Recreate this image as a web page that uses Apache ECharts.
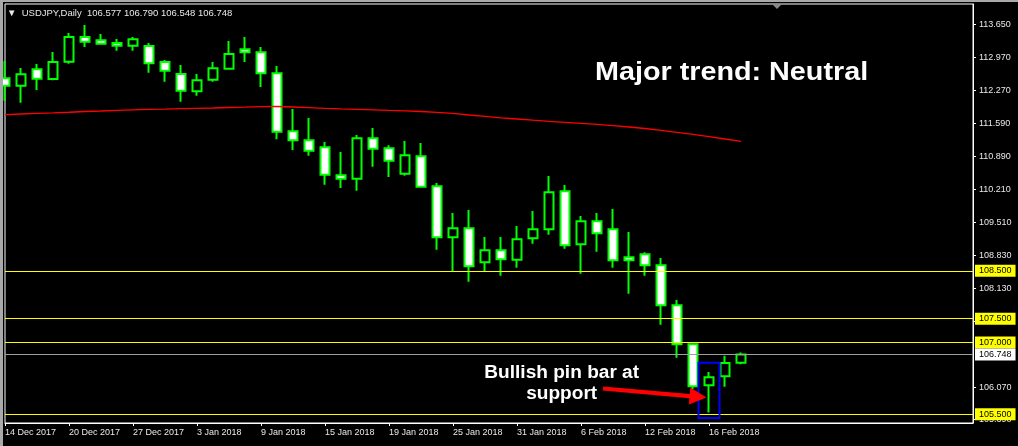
<!DOCTYPE html>
<html>
<head>
<meta charset="utf-8">
<script src="https://cdn.jsdelivr.net/npm/echarts@6/dist/echarts.min.js"></script>
<style>
html,body{margin:0;padding:0;background:#000;}
#c{width:1018px;height:446px;}
</style>
</head>
<body>
<div id="c"></div>
<script>
// ---------------- data ----------------
const symbol = 'USDJPY,Daily';
const dates = ['14 Dec 2017','15 Dec 2017','18 Dec 2017','19 Dec 2017','20 Dec 2017','21 Dec 2017','22 Dec 2017','26 Dec 2017','27 Dec 2017','28 Dec 2017','29 Dec 2017',
  '2 Jan 2018','3 Jan 2018','4 Jan 2018','5 Jan 2018','8 Jan 2018','9 Jan 2018','10 Jan 2018','11 Jan 2018','12 Jan 2018','15 Jan 2018','16 Jan 2018','17 Jan 2018','18 Jan 2018','19 Jan 2018','22 Jan 2018','23 Jan 2018','24 Jan 2018','25 Jan 2018','26 Jan 2018','29 Jan 2018','30 Jan 2018','31 Jan 2018',
  '1 Feb 2018','2 Feb 2018','5 Feb 2018','6 Feb 2018','7 Feb 2018','8 Feb 2018','9 Feb 2018','12 Feb 2018','13 Feb 2018','14 Feb 2018','15 Feb 2018','16 Feb 2018','19 Feb 2018','20 Feb 2018'];
const open  = [112.525,112.370,112.713,112.511,112.872,113.389,113.320,113.263,113.207,113.200,112.866,112.615,112.253,112.496,112.726,113.132,113.069,112.630,111.417,111.229,111.083,110.497,110.426,111.271,111.062,110.531,110.894,110.267,109.201,109.389,108.678,108.929,108.733,109.180,109.368,110.163,109.055,109.535,109.368,108.783,108.845,108.616,107.779,106.964,106.107,106.295,106.577];
const close = [112.370,112.609,112.517,112.866,113.389,113.290,113.249,113.207,113.341,112.839,112.684,112.266,112.483,112.734,113.033,113.069,112.630,111.409,111.229,111.012,110.510,110.426,111.271,111.053,110.802,110.915,110.259,109.201,109.389,108.595,108.929,108.741,109.159,109.368,110.142,109.034,109.535,109.285,108.720,108.720,108.616,107.779,106.964,106.086,106.274,106.573,106.748];
const low   = [112.057,112.015,112.281,112.483,112.830,113.180,113.240,113.102,113.102,112.642,112.454,112.036,112.161,112.454,112.705,112.866,112.343,111.250,111.026,110.907,110.301,110.232,110.175,110.677,110.462,110.489,110.238,108.942,108.490,108.273,108.490,108.398,108.565,109.067,109.255,108.963,108.440,108.900,108.565,108.022,108.398,107.374,106.684,106.030,105.540,106.077,106.548];
const high  = [112.887,112.741,112.824,113.075,113.472,113.640,113.451,113.347,113.389,113.263,112.908,112.803,112.615,112.866,113.305,113.389,113.180,112.782,111.883,111.695,111.193,110.984,111.340,111.486,111.124,111.214,111.172,110.336,109.709,109.772,109.207,109.207,109.437,109.751,110.483,110.294,109.646,109.709,109.793,109.312,108.887,108.768,107.890,106.980,106.385,106.726,106.790];
const ma200 = [111.768,111.779,111.791,111.802,111.816,111.831,111.842,111.856,111.867,111.875,111.881,111.892,111.898,111.904,111.915,111.923,111.934,111.936,111.925,111.913,111.898,111.885,111.877,111.867,111.856,111.846,111.831,111.814,111.793,111.758,111.731,111.699,111.674,111.649,111.626,111.605,111.584,111.561,111.536,111.507,111.476,111.438,111.396,111.354,111.308,111.256,111.208];
const yTicks = [113.650,112.970,112.270,111.590,110.890,110.210,109.510,108.830,108.130,107.450,106.070,105.390];
const levels = [108.5, 107.5, 107.0, 105.5];
const pinBarDate = '16 Feb 2018';
const pinBox = [106.579, 105.423];   // price span of the highlight box
const arrowTipPrice = 105.85;

// ---------------- chart ----------------
const chart = echarts.init(document.getElementById('c'), null, {renderer: 'canvas'});
const FONT = '"Liberation Sans", Arial, sans-serif';
const SLOTS = 122;                       // half-bar slots across the plot
const cats = Array.from({length: SLOTS}, (_, i) => (i % 2 === 0 && i / 2 < dates.length) ? dates[i / 2] : '#' + i);
const candles = dates.map((d, k) => [2 * k, open[k], close[k], low[k], high[k]]);
const maData = ma200.map((v, k) => [2 * k, v]);
const last = dates.length - 1;
const showIdx = (i) => i % 8 === 0 && i / 2 < dates.length;

const option = {
  backgroundColor: '#000',
  animation: false,
  title: {
    text: '\u25BC  ' + symbol + '  ' + [open[last], high[last], low[last], close[last]].map(v => v.toFixed(3)).join(' '),
    left: 7, top: 8, padding: 0,
    textStyle: {color: '#e8e8e8', fontSize: 9.5, fontWeight: 'normal', fontFamily: FONT}
  },
  grid: {left: 5, top: 4, right: 45, bottom: 23, show: true, borderColor: '#ffffff', borderWidth: 1, backgroundColor: '#000'},
  xAxis: {
    type: 'category', data: cats, boundaryGap: false,
    axisLine: {show: true, lineStyle: {color: '#ffffff'}},
    axisTick: {show: true, length: 3, interval: showIdx, lineStyle: {color: '#ffffff'}},
    axisLabel: {show: true, interval: showIdx, color: '#e8e8e8', fontSize: 9, fontFamily: FONT, align: 'left', margin: 5},
    splitLine: {show: false}
  },
  yAxis: {
    type: 'value', position: 'right', min: 105.318, max: 114.079,
    axisLine: {show: true, lineStyle: {color: '#ffffff'}},
    axisTick: {show: true, length: 3, customValues: yTicks, lineStyle: {color: '#ffffff'}},
    axisLabel: {show: true, customValues: yTicks, color: '#e8e8e8', fontSize: 9, fontFamily: FONT, margin: 6, formatter: v => Number(v).toFixed(3)},
    splitLine: {show: false}
  },
  series: [
    {
      type: 'candlestick', name: symbol, data: candles,
      encode: {x: 0, y: [1, 2, 3, 4]},
      barWidth: 9,
      itemStyle: {color: '#000000', color0: '#ffffff', borderColor: '#00ff00', borderColor0: '#00ff00', borderColorDoji: '#00ff00', borderWidth: 2},
      markLine: {
        silent: true, symbol: ['none', 'none'], animation: false, precision: 3,
        lineStyle: {type: 'solid', width: 1},
        label: {show: true, position: 'end', distance: 2, color: '#000', fontSize: 9, fontFamily: FONT,
                padding: [2, 4, 1, 4], formatter: p => Number(p.value).toFixed(3)},
        data: levels.map(v => ({yAxis: v, lineStyle: {color: '#ffff00'}, label: {backgroundColor: '#ffff00'}}))
          .concat([{yAxis: close[last], lineStyle: {color: '#a0a0a0'}, label: {backgroundColor: '#ffffff'}}])
      }
    },
    {
      type: 'line', name: 'MA', data: maData, symbol: 'none', showSymbol: false,
      lineStyle: {color: '#ff0000', width: 1.3}, z: 3
    }
  ]
};
chart.setOption(option);

// ---------------- annotations ----------------
const pin = dates.indexOf(pinBarDate);
const pTop = chart.convertToPixel({gridIndex: 0}, [2 * pin, pinBox[0]]);
const pBot = chart.convertToPixel({gridIndex: 0}, [2 * pin, pinBox[1]]);
const pTip = chart.convertToPixel({gridIndex: 0}, [2 * pin, arrowTipPrice]);
const cx = pTop[0];

const tip = [pTip[0] - 2.5, pTip[1]];
const tail = [603, 388.5];
const dx = tip[0] - tail[0], dy = tip[1] - tail[1];
const L = Math.hypot(dx, dy);
const u = [dx / L, dy / L], n = [-u[1], u[0]];
const headLen = 17, headHalf = 8.5, sh = 2.1;
const base = [tip[0] - u[0] * headLen, tip[1] - u[1] * headLen];
const P = (p, k) => [p[0] + n[0] * k, p[1] + n[1] * k];
const arrowPts = [P(tail, -sh), P(base, -sh), P(base, -headHalf), tip, P(base, headHalf), P(base, sh), P(tail, sh)];

chart.setOption({
  graphic: [
    {type: 'rect', left: 0, top: 0, shape: {width: 1018, height: 2}, style: {fill: '#a9a9a9'}, silent: true, z: 100},
    {type: 'rect', left: 0, top: 0, shape: {width: 3, height: 446}, style: {fill: '#a9a9a9'}, silent: true, z: 100},
    {type: 'polygon', shape: {points: [[772, 4], [782, 4], [777, 9]]}, style: {fill: '#8a8a8a'}, silent: true, z: 100},
    {type: 'text', x: 595, y: 73.5, scaleX: 1.15, silent: true, z: 100,
     style: {text: 'Major trend: Neutral', fill: '#ffffff', font: 'bold 25px ' + FONT, align: 'left', verticalAlign: 'middle'}},
    {type: 'text', x: 561.7, y: 383.5, scaleX: 1.06, silent: true, z: 100,
     style: {text: 'Bullish pin bar at\nsupport', fill: '#ffffff', font: 'bold 18px ' + FONT, align: 'center', verticalAlign: 'middle', lineHeight: 21.2}},
    {type: 'rect', shape: {x: cx - 10.5, y: pTop[1], width: 21, height: pBot[1] - pTop[1]},
     style: {fill: 'none', stroke: '#0000ff', lineWidth: 2}, silent: true, z: 100},
    {type: 'polygon', shape: {points: arrowPts}, style: {fill: '#ff0000'}, silent: true, z: 101}
  ]
});
</script>
</body>
</html>
